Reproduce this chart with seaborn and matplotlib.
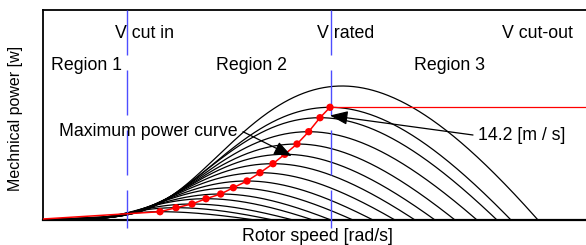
import numpy as np
import pandas as pd
import matplotlib
matplotlib.use("Agg")
import matplotlib.pyplot as plt
import seaborn as sns

# ---- values (rotor speed / power in chart units) ----
peak_speed = [117, 133, 149, 163, 177.7, 190.3, 204, 217, 230, 241.7, 254, 265.7, 277, 287, 299]
peak_power = [8.3, 12.3, 16, 21.3, 26, 32.3, 39, 47.3, 56.3, 65.7, 76, 88.3, 102.3, 112.7, 134]
zero_speed = [212, 230, 250, 270, 288, 310, 330, 352, 372, 392, 412, 434, 454, 468, 495]
mpp_speed = [0, 117, 133, 149, 163, 177.7, 190.3, 204, 217, 230, 241.7, 254, 265.7, 277, 287]
mpp_power = [1, 8.3, 12.3, 16, 21.3, 26, 32.3, 39, 47.3, 56.3, 65.7, 76, 88.3, 102.3, 112.7]
dot_speed = mpp_speed[1:]
dot_power = mpp_power[1:]
rated_power = 112.7
v_cut_in_speed = 83.5
v_rated_speed = 288

# ---- turbine power-coefficient shape (beta = 0) ----
def cp(lam):
    inv = 1.0 / lam - 0.035
    return 0.5176 * (116 * inv - 5) * np.exp(-21 * inv) + 0.0068 * lam

lam_grid = np.linspace(0.05, 20, 20000)
cp_grid = cp(lam_grid)
i_opt = np.argmax(cp_grid)
lam_opt, cp_max = lam_grid[i_opt], cp_grid[i_opt]
after = np.where((lam_grid > lam_opt) & (cp_grid <= 0))[0]
lam_zero = lam_grid[after[0]]

rows = []
for k, (pk, pp, ze) in enumerate(zip(peak_speed, peak_power, zero_speed)):
    w = np.linspace(0.5, ze, 400)
    lam = np.where(w <= pk, lam_opt * w / pk,
                   lam_opt + (lam_zero - lam_opt) * (w - pk) / (ze - pk))
    p = np.clip(pp * cp(lam) / cp_max, 0, None)
    for a, b in zip(w, p):
        rows.append((k, a, b))
curves = pd.DataFrame(rows, columns=["curve", "speed", "power"])
mpp = pd.DataFrame({"speed": mpp_speed, "power": mpp_power})
dots = pd.DataFrame({"speed": dot_speed, "power": dot_power})

sns.set_theme(style="white")
plt.rcParams["font.family"] = ["Liberation Sans", "DejaVu Sans"]

fig = plt.figure(figsize=(5.86, 2.45), dpi=100)
ax = fig.add_axes([43 / 586, 25 / 245, 543 / 586, 210 / 245])

sns.lineplot(data=curves, x="speed", y="power", units="curve", estimator=None,
             sort=False, color="black", lw=0.9, ax=ax, legend=False)
sns.lineplot(data=mpp, x="speed", y="power", sort=False, color="red", lw=1.1,
             ax=ax, legend=False, zorder=4)
sns.scatterplot(data=dots, x="speed", y="power", color="red", s=28,
                edgecolor="none", ax=ax, zorder=5, legend=False)
ax.plot([v_rated_speed - 1, 543], [rated_power, rated_power], color="red", lw=0.9, zorder=4)

blue = (0.3, 0.3, 1.0)
for xv in (v_cut_in_speed, v_rated_speed):
    ax.plot([xv, xv], [210, -8], color=blue, lw=1.0, ls=(0, (32.4, 10.8)),
            clip_on=False, zorder=3)

ax.set_xlim(0, 543)
ax.set_ylim(0, 210)
ax.set_xticks([])
ax.set_yticks([])
for s in ("top", "left"):
    ax.spines[s].set_linewidth(1.3)
    ax.spines[s].set_color("black")
ax.spines["bottom"].set_linewidth(1.6)
ax.spines["bottom"].set_color("black")
ax.spines["right"].set_visible(False)

fs = 12.8
txt = dict(fontsize=fs, color="black", va="center", ha="left")
ax.text(72, 187, "V cut in", **txt)
ax.text(274, 187, "V rated", **txt)
ax.text(458.7, 187, "V cut-out", **txt)
ax.text(7.7, 154, "Region 1", **txt)
ax.text(173, 154, "Region 2", **txt)
ax.text(371, 154, "Region 3", **txt)
ax.text(16, 89, "Maximum power curve", **txt)
ax.text(435, 85, "14.2 [m / s]", **txt)

arw = dict(arrowstyle="-|>,head_length=0.9,head_width=0.35", color="black", lw=0.9,
           shrinkA=0, shrinkB=0)
ax.annotate("", xy=(248.7, 64), xytext=(200, 88.3), arrowprops=arw, zorder=6)
ax.annotate("", xy=(287, 104.5), xytext=(430, 85), arrowprops=arw, zorder=6)

ax.set_xlabel("Rotor speed [rad/s]", fontsize=fs, color="black")
ax.xaxis.set_label_coords(274 / 543, -16.7 / 210)
ax.xaxis.label.set_va("center")
ax.set_ylabel("Mechnical power [w]", fontsize=11.5, color="black")
ax.yaxis.set_label_coords(-27 / 543, 101.5 / 210)
ax.yaxis.label.set_va("center")

fig.savefig("out.png", dpi=100)
